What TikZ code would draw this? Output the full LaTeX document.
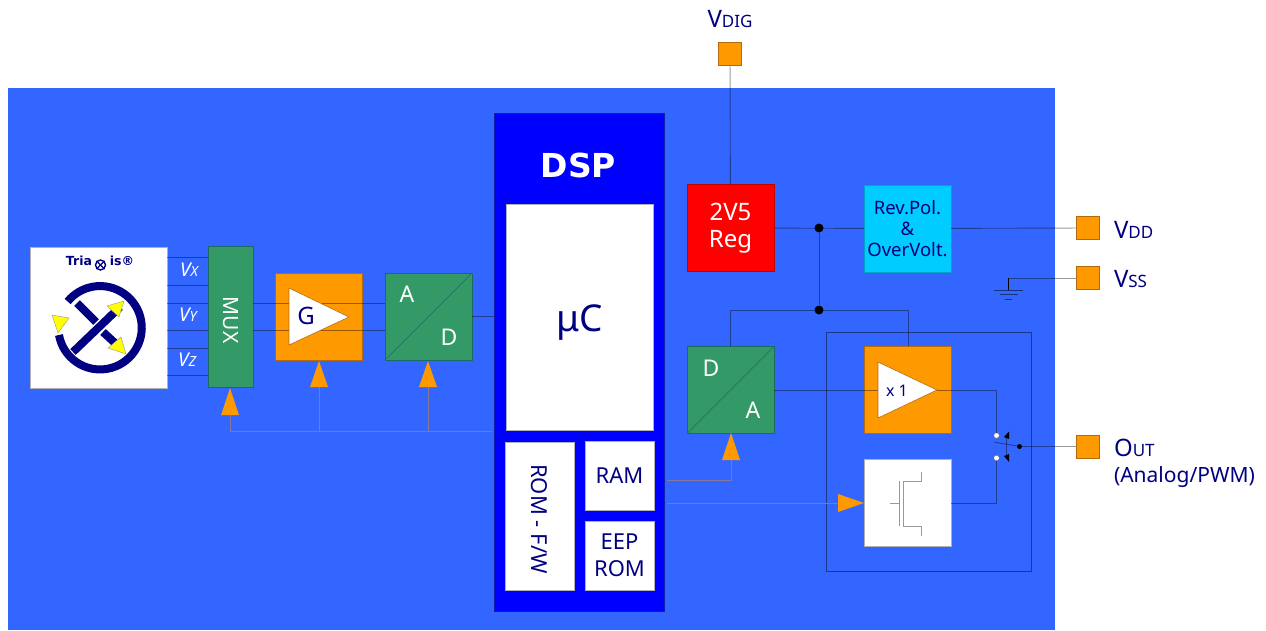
\documentclass[tikz,border=0pt]{standalone}
\usepackage{fontspec}
\setmainfont{Noto Sans}
\newfontfamily\boldfam{DejaVu Sans}
\definecolor{bgblue}{HTML}{3366FF}
\definecolor{dspblue}{HTML}{0000FF}
\definecolor{navy}{HTML}{000080}
\definecolor{orng}{HTML}{FF9900}
\definecolor{orngd}{HTML}{B36B10}
\definecolor{grn}{HTML}{339966}
\definecolor{grnd}{HTML}{1F6A60}
\definecolor{cyanb}{HTML}{00CCFF}
\definecolor{ctlc}{HTML}{86789C}
\definecolor{ylw}{HTML}{FFFF00}
\newcommand{\fs}[1]{\fontsize{#1}{#1}\selectfont}
\newcommand{\pinlabel}[2]{{\fs{24}#1}{\fs{17}#2}}
\newcommand{\vlabel}[2]{{\fs{19}\itshape #1}{\fs{14}\itshape #2}}
\tikzset{
  x=1pt,y=-1pt,
  box/.style={draw,inner sep=0pt,outer sep=0pt,line width=.8pt,align=center},
  wbox/.style={box,fill=white,draw=black!30,text=navy},
  obox/.style={box,fill=orng,draw=orngd},
  gbox/.style={box,fill=grn,draw=grnd,text=white},
  pad/.style={box,fill=orng,draw=orngd,minimum width=23,minimum height=23},
  big/.style={minimum width=87,minimum height=87},
  txt/.style={inner sep=0pt,outer sep=0pt,align=center},
  wire/.style={draw=black,draw opacity=.4,line width=.9pt},
  ctlw/.style={draw=ctlc,line width=1pt},
  fet/.style={draw=black!40,line width=.9pt},
  tri/.style={fill=white,draw=orngd,line width=.6pt},
  arr/.style={fill=orng},
  dot/.style={circle,fill=black,inner sep=0pt,minimum size=9},
  sdot/.style={circle,fill=black,inner sep=0pt,minimum size=5},
  odot/.style={circle,fill=white,draw=black!60,line width=.3pt,inner sep=0pt,minimum size=5.5},
  gnd/.style={draw=black,draw opacity=.5,line width=.9pt},
}
\begin{document}
\begin{tikzpicture}
\useasboundingbox (0,0) rectangle (1266,630);
\node[fill=white,inner sep=0,minimum width=1266,minimum height=630] (page) at (633,315) {};
\node[fill=bgblue,inner sep=0,minimum width=1047,minimum height=542] (chip) at (531.5,359) {};
% DSP
\node[box,fill=dspblue,draw=navy!70!bgblue,minimum width=170,minimum height=498] (dsp) at (579,362) {};
\node[txt,text=white] (dsplabel) at (578.5,165) {\boldfam\fs{33}\bfseries DSP};
\node[wbox,minimum width=147,minimum height=226] (uc) at (579.5,317) {};
\node[txt,text=navy] (uct) at (579.5,323) {\fs{37}μC};
\node[wbox,rotate=-90,minimum width=148,minimum height=69] (rom) at (539.5,516) {};
\node[txt,text=navy,rotate=-90] (romt) at (539.5,519) {\fs{22}ROM - F/W};
\node[wbox,minimum width=69,minimum height=69] (ram) at (619.5,475.5) {\fs{22}RAM};
\node[wbox,minimum width=69,minimum height=69] (eep) at (619.5,555.5) {\fs{22}EEP\\[10pt]\fs{22}ROM};
% sensor
\node[wbox,minimum width=137,minimum height=141] (sensor) at (98.5,317.5) {};
\node[txt,text=navy] (tria) at (79,261) {\boldfam\fs{12.5}\bfseries Tria};
\node[txt,text=navy] (isr) at (122,261) {\boldfam\fs{12.5}\bfseries is®};
\node[circle,draw=navy,fill=white,line width=1.4pt,inner sep=0,minimum size=10] (xcirc) at (100.5,265) {};
\draw[navy,line width=1.3pt] (xcirc.north west) -- (xcirc.south east) (xcirc.north east) -- (xcirc.south west);
\draw[navy,line width=8] (59,335) arc[start angle=170,end angle=-141,radius=41.7];
\draw[navy,line width=8] (73,352) -- (120,307);
\draw[navy,line width=8] (77,303) -- (96,322) (103,332) -- (115,343);
\draw[fill=ylw,draw=black!40,line width=.4pt] (52,315) -- (69,318) -- (58,333) -- cycle;
\draw[fill=ylw,draw=black!40,line width=.4pt] (124,301) -- (107,306) -- (119,317) -- cycle;
\draw[fill=ylw,draw=black!40,line width=.4pt] (126,354) -- (108,348) -- (121,337) -- cycle;
% MUX
\node[gbox,minimum width=45,minimum height=141] (mux) at (230.5,316.5) {};
\node[txt,text=white,rotate=-90] (muxt) at (231,320) {\fs{21}MUX};
\foreach \n/\yy in {a/257,b/285,c/303,d/330,e/348,f/375}{
  \coordinate (s\n) at (167,\yy);
  \coordinate (m\n) at (208,\yy);
  \draw[wire] (s\n) -- (m\n);
}
\node[txt,text=white] (vx) at (189,270) {\vlabel{V}{X}};
\node[txt,text=white] (vy) at (188,315) {\vlabel{V}{Y}};
\node[txt,text=white] (vz) at (187,360) {\vlabel{V}{Z}};
% G
\node[obox,big] (gbox) at (319,316.5) {};
\node[gbox,big] (ad) at (428.5,316.5) {};
\coordinate (mo1) at (253,303);
\coordinate (mo2) at (253,330);
\coordinate (ai1) at (385,303);
\coordinate (ai2) at (385,330);
\draw[wire] (mo1) -- (ai1);
\draw[wire] (mo2) -- (ai2);
\draw[tri] (289,288) -- (349,317) -- (289,345) -- cycle;
\node[txt,text=navy] (gt) at (306,316) {\fs{24}G};
\draw[draw=grnd,line width=.6pt] (ad.south west) -- (ad.north east);
\node[txt,text=white] (ada) at (407,294) {\fs{23}A};
\node[txt,text=white] (add) at (449,337) {\fs{23}D};
\draw[wire] (ad.east) -- (ad.east -| dsp.west);
% control
\coordinate (cm) at (230,415);
\coordinate (cc) at (230,431);
\coordinate (cg) at (319,387);
\coordinate (cgb) at (319,431);
\coordinate (ca) at (428,387);
\coordinate (cab) at (428,431);
\coordinate (ce) at (492,431);
\draw[ctlw] (cm) -- (cc) -- (ce);
\draw[ctlw] (cg) -- (cgb);
\draw[ctlw] (ca) -- (cab);
\fill[arr] (230,388) -- (239,415) -- (221,415) -- cycle;
\fill[arr] (319,361) -- (328,387) -- (310,387) -- cycle;
\fill[arr] (428,361) -- (437,387) -- (419,387) -- cycle;
% right
\node[pad] (vdig) at (730,54) {};
\node[txt,text=navy] (vdigt) at (730,19) {\pinlabel{V}{DIG}};
\node[box,fill=red,draw=red!75!black,text=white,big] (reg) at (730.5,228) {\fs{24}2V5\\[8pt]\fs{24}Reg};
\node[box,fill=cyanb,draw=cyanb!80!black,text=navy,big] (rev) at (907.5,228.5) {\fs{18.5}Rev.Pol.\\[6pt]\fs{18.5}\&\\[6pt]\fs{18.5}OverVolt.};
\node[gbox,big] (da) at (731,389.5) {};
\draw[draw=grnd,line width=.6pt] (da.south west) -- (da.north east);
\node[txt,text=white] (dad) at (711,368) {\fs{23}D};
\node[txt,text=white] (daa) at (753,410) {\fs{23}A};
\node[obox,big] (x1) at (908,389.5) {};
\node[wbox,big] (fetb) at (908,503) {};
\node[draw=black,draw opacity=.45,line width=.9pt,inner sep=0,minimum width=205,minimum height=239] (frame) at (928.5,451.5) {};
\node[pad] (vdd) at (1087.5,228) {};
\node[pad] (vss) at (1087.5,278) {};
\node[pad] (out) at (1087.5,446.5) {};
\node[txt,text=navy,anchor=west] (vddt) at (1114,230) {\pinlabel{V}{DD}};
\node[txt,text=navy,anchor=west] (vsst) at (1114,279) {\pinlabel{V}{SS}};
\node[txt,text=navy,anchor=west] (outt) at (1114,448) {\pinlabel{O}{UT}};
\node[txt,text=navy,anchor=west] (outt2) at (1114,477) {\fs{21}(Analog/PWM)};
\draw[wire] (vdig) -- (reg);
\draw[wire] (reg) -- (rev);
\draw[wire] (rev) -- (vdd);
\node[dot] (j1) at (819,228) {};
\node[dot] (j2) at (819,310) {};
\draw[wire] (j1) -- (j2);
\coordinate (dat) at (730,346);
\coordinate (dac) at (730,310);
\coordinate (xc) at (908,310);
\coordinate (xt) at (908,346);
\draw[wire] (dat) -- (dac) -- (xc) -- (xt);
% ground
\coordinate (g1) at (1008,278);
\coordinate (g2) at (1008,290);
\draw[wire] (vss) -- (g1);
\draw[draw=black,line width=.9pt] (g1) -- (g2);
\coordinate (gl1) at (994,290); \coordinate (gr1) at (1023,290);
\coordinate (gl2) at (999.5,294.5); \coordinate (gr2) at (1018,294.5);
\coordinate (gl3) at (1005,299); \coordinate (gr3) at (1012,299);
\draw[gnd] (gl1) -- (gr1);
\draw[gnd] (gl2) -- (gr2);
\draw[gnd] (gl3) -- (gr3);
% x1
\coordinate (dao) at (774,390);
\coordinate (xi) at (878,390);
\draw[wire] (dao) -- (xi);
\draw[tri] (878,362) -- (937,390) -- (878,418) -- cycle;
\node[txt,text=navy] (x1t) at (897,391) {\fs{16}x 1};
\node[odot] (c1) at (996.5,435.5) {};
\node[odot] (c2) at (996.5,458) {};
\coordinate (xo) at (937,390);
\coordinate (xo2) at (996.5,390);
\coordinate (fo) at (951,503);
\coordinate (fo2) at (996.5,503);
\draw[wire] (xo) -- (xo2) -- (c1);
\draw[wire] (fo) -- (fo2) -- (c2);
\node[sdot] (sw) at (1019.5,446.5) {};
\coordinate (swl) at (994,442);
\draw[wire] (swl) -- (sw);
\draw[wire] (sw) -- (out);
\coordinate (swa) at (1006,436);
\coordinate (swb) at (1006,456);
\draw[wire] (swa) -- (swb);
\fill[black] (1009,431.5) -- (1009,439) -- (1004,437) -- cycle;
\fill[black] (1009,462) -- (1009,454) -- (1004,456) -- cycle;
% FET
\draw[fet] (890,503) -- (899.5,503);
\draw[fet] (899.5,481) -- (899.5,526);
\draw[fet] (921.5,472) -- (921.5,481) -- (903.5,481) -- (903.5,526) -- (921.5,526) -- (921.5,536);
% RAM -> DA, DSP -> FET
\coordinate (r1) at (667,480);
\coordinate (r2) at (731,480);
\coordinate (r3) at (731,459);
\draw[ctlw] (r1) -- (r2) -- (r3);
\fill[arr] (731,433) -- (740,460) -- (722,460) -- cycle;
\coordinate (f1) at (667,503);
\coordinate (f2) at (838,503);
\draw[draw=ctlc,line width=.7pt] (f1) -- (f2);
\fill[arr] (864,503) -- (838,494) -- (838,512) -- cycle;
\end{tikzpicture}
\end{document}
